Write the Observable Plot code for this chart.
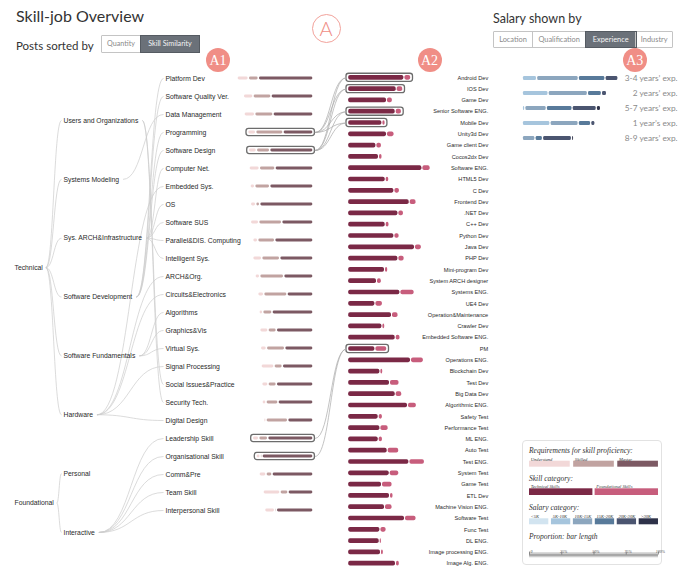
<!DOCTYPE html>
<html><head><meta charset="utf-8">
<script src="https://cdn.jsdelivr.net/npm/d3@7"></script>
<script src="https://cdn.jsdelivr.net/npm/@observablehq/plot@0.6"></script>
<style>
body{margin:0;background:#fff;}
#root{position:relative;width:686px;height:569px;overflow:hidden;font-family:Lato,'Open Sans',sans-serif;}
.t{position:absolute;white-space:nowrap;line-height:1;}
.btns{position:absolute;display:flex;border:1px solid #c4c4c4;box-sizing:border-box;border-radius:1px;}
.btns div{box-sizing:border-box;text-align:center;color:#8a8a8a;border-right:1px solid #c4c4c4;}
.btns div:last-child{border-right:none;}
.btns div.sel{background:#6b7179;color:#f4f4f4;outline:1.5px solid #555b62;}
.badge{position:absolute;border-radius:50%;background:#f08e86;color:#fff;text-align:center;font-family:'Liberation Serif','DejaVu Serif',serif;}
.leg{position:absolute;font-family:'Liberation Serif',serif;font-style:italic;color:#333;white-space:nowrap;line-height:1;}
</style></head><body><div id="root"></div><script>
// ================= DATA =================
const roots = ["Technical", "Foundational"];
const groups = ["Users and Organizations", "Systems Modeling", "Sys. ARCH&Infrastructure", "Software Development",
  "Software Fundamentals", "Hardware", "Personal", "Interactive"];
const groupRoot = ["Technical", "Technical", "Technical", "Technical", "Technical", "Technical", "Foundational", "Foundational"];

const skills = ["Platform Dev", "Software Quality Ver.", "Data Management", "Programming", "Software Design",
  "Computer Net.", "Embedded Sys.", "OS", "Software SUS", "Parallel&DIS. Computing", "Intelligent Sys.",
  "ARCH&Org.", "Circuits&Electronics", "Algorithms", "Graphics&Vis", "Virtual Sys.", "Signal Processing",
  "Social Issues&Practice", "Security Tech.", "Digital Design", "Leadership Skill", "Organisational Skill",
  "Comm&Pre", "Team Skill", "Interpersonal Skill"];
const skillGroup = ["Software Development", "Software Development", "Systems Modeling", "Software Development", "Software Development",
  "Sys. ARCH&Infrastructure", "Hardware", "Sys. ARCH&Infrastructure", "Sys. ARCH&Infrastructure", "Sys. ARCH&Infrastructure", "Sys. ARCH&Infrastructure",
  "Hardware", "Hardware", "Software Fundamentals", "Software Fundamentals", "Software Fundamentals", "Hardware",
  "Users and Organizations", "Users and Organizations", "Hardware", "Interactive", "Interactive",
  "Interactive", "Interactive", "Interactive"];
const understand = [11.3, 9.7, 10.7, 8, 8, 10.3, 4.7, 5.3, 8.3, 5, 9, 4.7, 6, 3.7, 8.3, 6, 13, 6.3, 4, 2.3, 6.3, 4.2, 7, 17, 10];
const skilled    = [10, 18, 18.3, 27.3, 13.3, 15.7, 15, 4, 23, 17, 18, 24, 23.3, 9.3, 8.3, 18.3, 8.3, 8.3, 12, 21.7, 9, 1.8, 6, 8, 1.7];
const master     = [54.7, 42, 40, 30, 43.3, 38, 43.3, 53.3, 31.3, 38.3, 33.3, 29.3, 26, 41, 36.7, 28.3, 30.7, 36.7, 35, 25.3, 45.3, 51, 41, 25, 36.7];
const highlightSkills = ["Programming", "Software Design", "Leadership Skill", "Organisational Skill"];

const jobs = ["Android Dev", "IOS Dev", "Game Dev", "Senior Software ENG.", "Mobile Dev", "Unity3d Dev", "Game client Dev",
  "Cocos2dx Dev", "Software ENG.", "HTML5 Dev", "C Dev", "Frontend Dev", ".NET Dev", "C++ Dev", "Python Dev", "Java Dev",
  "PHP Dev", "Mini-program Dev", "System ARCH designer", "Systems ENG.", "UE4 Dev", "Operation&Maintenance", "Crawler Dev",
  "Embedded Software ENG.", "PM", "Operations ENG.", "Blockchain Dev", "Test Dev", "Big Data Dev", "Algorithmic ENG.",
  "Safety Test", "Performance Test", "ML ENG.", "Auto Test", "Test ENG.", "System Test", "Game Test", "ETL Dev",
  "Machine Vision ENG.", "Software Test", "Func Test", "DL ENG.", "Image processing ENG.", "Image Alg. ENG."];
const technical = [56.2, 48.5, 38.8, 47.5, 34.2, 38.8, 28.2, 30.8, 74.2, 37.5, 46.2, 61.5, 50.2, 37.5, 46.2, 66.8, 50.2, 36.8,
  28.8, 52.2, 27.2, 43.8, 34.2, 47.5, 27.2, 62.8, 32.2, 41.8, 47.5, 59.8, 30.5, 32.2, 30.5, 39.5, 61.2, 41.5, 33.8, 41.8,
  36.8, 56.8, 32.2, 31.5, 32.8, 47.8];
const foundational = [6.8, 6.5, 5.8, 6.2, 3.2, 7.5, 5.5, 3.5, 8.2, 3.5, 5.5, 6.8, 5.5, 3.8, 5.2, 6.8, 6.2, 3.2, 4.8, 14.2,
  7.5, 6.5, 2.8, 4.8, 11.8, 12.8, 2.8, 9.5, 6.5, 8.8, 4.2, 8.2, 4.2, 11.5, 15.5, 9.5, 10.5, 3.5, 7.5, 11.5, 6.2, 2.2, 2.8, 3.8];
const highlightJobs = ["Android Dev", "IOS Dev", "Senior Software ENG.", "Mobile Dev", "PM"];
const skillJobLinks = [
  ["Programming", "Android Dev"], ["Programming", "IOS Dev"], ["Programming", "Senior Software ENG."], ["Programming", "Mobile Dev"],
  ["Software Design", "Android Dev"], ["Software Design", "IOS Dev"], ["Software Design", "Senior Software ENG."], ["Software Design", "Mobile Dev"],
  ["Leadership Skill", "PM"], ["Organisational Skill", "PM"]];

const experience = ["3-4 years’ exp.", "2 years’ exp.", "5-7 years’ exp.", "1 year’s exp.", "8-9 years’ exp."];
const salaryCategories = ["<5K", "5K-10K", "10K-15K", "15K-20K", "20K-30K", ">30K"];
const salary34 = [0, 14.3, 41.7, 26.7, 13, 1.3];
const salary2  = [0, 25.8, 39.3, 14, 5.2, 0];
const salary57 = [0, 2.5, 21.5, 25.8, 24.2, 4.3];
const salary1  = [0, 27.7, 28.2, 12.5, 4.3, 0];
const salary89 = [0, 0, 12.7, 7.5, 29, 2.2];
const salaryByExperience = [salary34, salary2, salary57, salary1, salary89];

const proficiencyLevels = ["Understand", "Skilled", "Master"];
const skillCategories = ["Technical Skills", "Foundational Skills"];
const proportionTicks = [0, 0.25, 0.5, 0.75, 1];

// ================= STYLE =================
const proficiencyColors = ["#f2d8d8", "#c1a3a1", "#7c5963"];
const categoryColors = ["#7b2946", "#c75d7c"];
const salaryColors = ["#d2e4f0", "#a6c5dd", "#8ca6be", "#587a9a", "#4b5570", "#2e3249"];
const SANS = "'Liberation Sans', Arial, sans-serif";
const UI = "Lato, 'Open Sans', sans-serif";
const root = document.getElementById("root");
const base = {width: 686, height: 569, margin: 0, style: {background: "transparent", position: "absolute", left: "0px", top: "0px", overflow: "visible"}};

const ctx = document.createElement("canvas").getContext("2d");
const tw = (t, size) => { ctx.font = `${size}px ${SANS}`; return ctx.measureText(t).width; };

function html(cls, text, css) { const d = document.createElement("div"); d.className = cls; d.textContent = text; Object.assign(d.style, css); root.appendChild(d); return d; }

// ================= HEADER (HTML) =================
html("t", "Skill-job Overview", {left: "16px", top: "7.5px", fontSize: "16px", color: "#333"});
html("t", "Posts sorted by", {left: "16px", top: "40px", fontSize: "11.5px", color: "#333"});
function buttons(labels, widths, selected, left, top, h, fs) {
  const c = document.createElement("div"); c.className = "btns";
  Object.assign(c.style, {left: left + "px", top: top + "px", height: h + "px"});
  labels.forEach((l, i) => { const b = document.createElement("div"); b.textContent = l; if (l === selected) b.className = "sel";
    Object.assign(b.style, {width: widths[i] + "px", lineHeight: (h - 2) + "px", fontSize: fs + "px"}); c.appendChild(b); });
  root.appendChild(c);
}
buttons(["Quantity", "Skill Similarity"], [39, 58], "Skill Similarity", 101, 35, 18, 7.2);
html("t", "Salary shown by", {left: "493px", top: "13px", fontSize: "12.5px", color: "#333"});
buttons(["Location", "Qualification", "Experience", "Industry"], [39, 53.4, 49.6, 36.4], "Experience", 493, 30.5, 17, 7.4);

// ================= TREE =================
// tree layout: column per depth, leaves on the skill rows, groups evenly spread
const depthX = d3.scaleLinear().domain([0, 1, 2]).range([14, 63, 165]);
const rowY = Plot.scale({y: {domain: [0, skills.length - 1], range: [78, 510]}});
const groupPos = d3.scaleLinear().domain([0, groups.length - 1]).range([2.333, 25.22]);
const groupNodes = groups.map((g, j) => ({name: g, depth: 1, row: groupPos(j)}));
const rootNodes = roots.map(r => ({name: r, depth: 0, row: d3.mean(groupNodes.filter((g, j) => groupRoot[j] === r), d => d.row)}));
const leafNodes = skills.map((s, i) => ({name: s, depth: 2, row: i}));
const nodes = [...rootNodes, ...groupNodes, ...leafNodes].map(n => ({...n, px: depthX(n.depth), py: rowY.apply(n.row)}));
const FS = 6.8;
const treeLinks = [
  ...groupNodes.map((g, j) => { const r = rootNodes.find(r => r.name === groupRoot[j]);
    return {x1: depthX(0) + tw(r.name, FS) + 3, y1: rowY.apply(r.row), x2: depthX(1) - 2, y2: rowY.apply(g.row)}; }),
  ...skills.map((s, i) => { const g = groupNodes[groups.indexOf(skillGroup[i])];
    return {x1: depthX(1) + tw(g.name, FS) + 4, y1: rowY.apply(g.row), x2: depthX(2) - 2, y2: rowY.apply(i)}; })
];
root.appendChild(Plot.plot({...base,
  x: {type: "identity", axis: null}, y: {type: "identity", axis: null},
  marks: [
    Plot.link(treeLinks, {x1: "x1", y1: "y1", x2: "x2", y2: "y2", curve: "bump-x", stroke: "#cbcbcb", strokeWidth: 0.7}),
    Plot.text(nodes, {x: "px", y: "py", text: "name", textAnchor: "start", fontSize: FS, fontFamily: SANS, fill: "#2a2a2a"})
  ]}));

// ================= A1 skill bars =================
const xA1Opts = {domain: [0, 80], range: [313, 233]};
const yA1Opts = {type: "band", domain: skills, range: [69, 519], padding: 0, round: false};
const a1Rows = skills.flatMap((s, i) => [
  {skill: s, level: "Master", value: master[i]},
  {skill: s, level: "Skilled", value: skilled[i]},
  {skill: s, level: "Understand", value: understand[i]}]);
const a1Total = s => { const i = skills.indexOf(s); return understand[i] + skilled[i] + master[i]; };
root.appendChild(Plot.plot({...base,
  x: {...xA1Opts, axis: null}, y: {...yA1Opts, axis: null},
  color: {domain: proficiencyLevels, range: proficiencyColors},
  marks: [
    Plot.barX(a1Rows, {x: "value", y: "skill", fill: "level", insetTop: 7.6, insetBottom: 7.6, insetLeft: 0.65, insetRight: 0.65, rx: 1.4}),
    Plot.barX(highlightSkills, {x1: 0, x2: a1Total, y: d => d, fill: "none", stroke: "#6c6c6c", strokeWidth: 1.3, rx: 2.5,
      insetTop: 5.4, insetBottom: 5.4, insetLeft: -1.7, insetRight: -1.4})
  ]}));

// ================= A2 job bars =================
const xA2Opts = {domain: [0, 100], range: [347.7, 447.7]};
const yA2Opts = {type: "band", domain: jobs, range: [71.65, 568.85], padding: 0, round: false};
const a2Rows = jobs.flatMap((j, i) => [
  {job: j, cat: "Technical", value: technical[i]},
  {job: j, cat: "Foundational", value: foundational[i]}]);
const a2Total = j => { const i = jobs.indexOf(j); return technical[i] + foundational[i]; };
root.appendChild(Plot.plot({...base, marginRight: 198.3,
  x: {...xA2Opts, axis: null}, y: {...yA2Opts, axis: null},
  color: {domain: ["Technical", "Foundational"], range: categoryColors},
  marks: [
    Plot.barX(a2Rows, {x: "value", y: "job", fill: "cat", insetTop: 3.3, insetBottom: 3.3, insetLeft: 0.5, insetRight: 0.5, rx: 1.8}),
    Plot.barX(highlightJobs, {x1: 0, x2: a2Total, y: d => d, fill: "none", stroke: "#6c6c6c", strokeWidth: 1.3, rx: 2.5,
      insetTop: 1.6, insetBottom: 1.6, insetLeft: -1.7, insetRight: -1.8}),
    Plot.text(jobs, {y: d => d, text: d => d, frameAnchor: "right", textAnchor: "end", fontSize: 5.6, fontFamily: SANS, fill: "#2a2a2a"})
  ]}));

// ================= links A1 -> A2 =================
const sA1x = Plot.scale({x: xA1Opts}), sA1y = Plot.scale({y: yA1Opts});
const sA2x = Plot.scale({x: xA2Opts}), sA2y = Plot.scale({y: yA2Opts});
const crossLinks = skillJobLinks.map(([s, j]) => ({
  x1: sA1x.apply(0) + 1.4, y1: sA1y.apply(s) + sA1y.bandwidth / 2,
  x2: sA2x.apply(0) - 1.7, y2: sA2y.apply(j) + sA2y.bandwidth / 2}));
root.appendChild(Plot.plot({...base,
  x: {type: "identity", axis: null}, y: {type: "identity", axis: null},
  marks: [Plot.link(crossLinks, {x1: "x1", y1: "y1", x2: "x2", y2: "y2", curve: "bump-x", stroke: "#a9a9a9", strokeWidth: 0.7})]}));

// ================= A3 salary bars =================
const xA3Opts = {domain: [0, 100], range: [522.3, 622.3]};
const yA3Opts = {type: "band", domain: experience, range: [70.5, 145.5], padding: 0, round: false};
const a3Rows = experience.flatMap((e, i) => salaryCategories.map((c, k) => ({exp: e, cat: c, value: salaryByExperience[i][k]})))
  .filter(d => d.value > 0);
root.appendChild(Plot.plot({...base, marginRight: 9,
  x: {...xA3Opts, axis: null}, y: {...yA3Opts, axis: null},
  color: {domain: salaryCategories, range: salaryColors},
  marks: [
    Plot.barX(a3Rows, {x: "value", y: "exp", fill: "cat", insetTop: 5.5, insetBottom: 5.5, insetLeft: 0.65, insetRight: 0.65, rx: 1.3}),
    Plot.text(experience, {y: d => d, text: d => d, frameAnchor: "right", textAnchor: "end", fontSize: 8.3, fontFamily: UI, fill: "#8a8a8a"})
  ]}));

// ================= badges =================
html("t", "A", {left: "311.5px", top: "13.5px", width: "29px", height: "29px", boxSizing: "border-box",
  border: "1.3px solid #f2a29b", borderRadius: "50%", color: "#f08e86", fontSize: "20px", textAlign: "center", lineHeight: "27px", fontWeight: "300"});
[["A1", 218], ["A2", 429.5], ["A3", 634.7]].forEach(([t, cx]) =>
  html("badge", t, {left: (cx - 12) + "px", top: "48px", width: "24px", height: "24px", lineHeight: "25px", fontSize: "14px"}));

// ================= legend =================
const box = document.createElement("div");
Object.assign(box.style, {position: "absolute", left: "521.7px", top: "440px", width: "140.6px", height: "125px",
  border: "1.5px solid #e2e2e2", borderRadius: "4px", boxSizing: "border-box"});
root.appendChild(box);
html("leg", "Requirements for skill proficiency:", {left: "529px", top: "446.5px", fontSize: "7.5px"});
html("leg", "Skill category:", {left: "529px", top: "475px", fontSize: "7.5px"});
html("leg", "Salary category:", {left: "529px", top: "503.5px", fontSize: "7.5px"});
html("leg", "Proportion: bar length", {left: "529px", top: "532.5px", fontSize: "7.5px"});

function swatchRow(domain, colors, top, height, marginTop, paddingInner, labelSize) {
  const xo = {type: "band", domain, range: [0, 129], paddingInner, paddingOuter: 0, round: false};
  const bw = Plot.scale({x: xo}).bandwidth;
  root.appendChild(Plot.plot({width: 129, height, margin: 0, marginTop,
    style: {background: "transparent", position: "absolute", left: "529.3px", top: top + "px", overflow: "visible"},
    x: {...xo, axis: null}, color: {domain, range: colors},
    marks: [
      Plot.cell(domain, {x: d => d, fill: d => d}),
      Plot.text(domain, {x: d => d, text: d => d, frameAnchor: "top", lineAnchor: "bottom", dy: -0.6, dx: -bw / 2 + 1.2,
        textAnchor: "start", fontSize: labelSize, fontFamily: "'Liberation Serif', serif", fontStyle: "italic", fill: "#333"})
    ]}));
}
swatchRow(proficiencyLevels, proficiencyColors, 454, 12.7, 6.7, 0.078, 4.6);
swatchRow(skillCategories, categoryColors, 482, 13, 6.3, 0.034, 4.6);
swatchRow(salaryCategories, salaryColors, 512, 12.3, 6.3, 0.12, 4.6);

root.appendChild(Plot.plot({width: 129, height: 16.3, margin: 0, marginTop: 8,
  style: {background: "transparent", position: "absolute", left: "529.3px", top: "541px", overflow: "visible"},
  x: {domain: [0, 1], axis: null}, y: {domain: [0, 1], reverse: true, axis: null},
  marks: [
    Plot.barX([1], {x: d => d, fill: "#cdcdcd", insetTop: 3.3}),
    Plot.ruleY([0], {stroke: "#555", strokeWidth: 0.6}),
    Plot.tickX(proportionTicks, {x: d => d, y: 0, stroke: "#555", strokeWidth: 0.6, dy: -1.5}),
    Plot.text(proportionTicks, {x: d => d, y: 0, text: d => d === 0 ? "0" : d3.format(".0%")(d), dy: -3.5, dx: 2,
      fontSize: 4, fontFamily: "'Liberation Serif', serif", fontStyle: "italic", fill: "#555"})
  ]}));
</script></body></html>
